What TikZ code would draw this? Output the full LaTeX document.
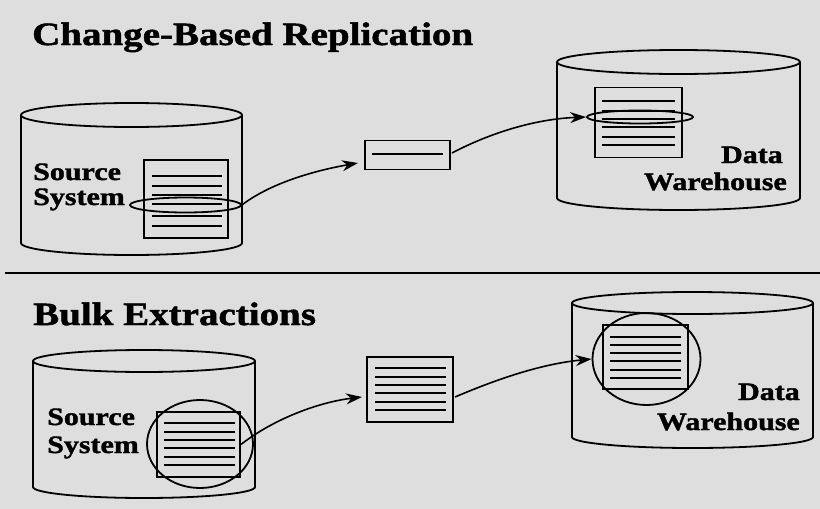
\documentclass[tikz,border=0pt]{standalone}
\usepackage{fontspec}
\setmainfont{Liberation Serif}
\newfontfamily\wfont[FakeStretch=1.2,FakeBold=1.5]{Liberation Serif}
\usetikzlibrary{arrows.meta,shapes.geometric}
\begin{document}
\begin{tikzpicture}[x=1pt,y=-1pt,
  ink/.style={draw=black,line width=1.8pt},
  thin/.style={draw=black,line width=1.5pt},
  title/.style={anchor=base west,inner sep=0pt,font=\wfont\fontsize{32.5}{32}\selectfont\bfseries,text=black},
  lbl/.style={inner sep=0pt,font=\wfont\fontsize{25}{25}\selectfont\bfseries,text=black},
  docbox/.style={ink,rectangle,inner sep=0pt},
  ring/.style={ink,ellipse,inner sep=0pt},
  flow/.style={draw=black,line width=1.6pt,-{Stealth[length=16pt,width=11pt]}}
]
\fill[black!13] (0,0) rectangle (820,509);
\useasboundingbox (0,0) rectangle (820,509);

% ---------- Top section ----------
\node[title] (t1) at (32,45) {Change-Based Replication};

% source cylinder
\draw[ink] (131.5,115) ellipse [x radius=110.5,y radius=12];
\draw[ink] (21,115) -- (21,243) arc[start angle=180,end angle=0,x radius=110.5,y radius=12] -- (242,115);
\node[lbl,anchor=base west] (s1a) at (33,180) {Source};
\node[lbl,anchor=base west] (s1b) at (33,205) {System};
\node[docbox,minimum width=84pt,minimum height=78pt] (d1) at (186,199) {};
\foreach \y in {176,186,195,204,216,226} \draw[thin] (152,\y) -- (222,\y);
\node[ring,minimum width=111pt,minimum height=15pt] (e1) at (185.5,205) {};

% middle small box
\node[docbox,minimum width=85pt,minimum height=29pt] (m1) at (407.5,155) {};
\draw[thin] (372,154) -- (443,154);

% warehouse cylinder
\draw[ink] (678.5,62) ellipse [x radius=121.5,y radius=12];
\draw[ink] (557,62) -- (557,198) arc[start angle=180,end angle=0,x radius=121.5,y radius=12] -- (800,62);
\node[docbox,minimum width=87pt,minimum height=70pt] (w1) at (638.5,122.5) {};
\foreach \y in {101,111,119,127,137,145} \draw[thin] (602,\y) -- (675,\y);
\node[ring,minimum width=106pt,minimum height=13pt] (f1) at (640,117) {};
\node[lbl,anchor=base east] (dw1a) at (783,163) {Data};
\node[lbl,anchor=base east] (dw1b) at (787,190) {Warehouse};

% arrows top
\coordinate (a1e) at (358,163);
\draw[flow] (e1.east) .. controls (272,182) and (318,170) .. (a1e);
\coordinate (a2s) at (452,153);
\draw[flow] (a2s) .. controls (490,133) and (535,119) .. (f1.west);

% divider
\draw[draw=black,line width=1.4pt] (5,273) -- (820,273);

% ---------- Bottom section ----------
\node[title] (t2) at (33,325) {Bulk Extractions};

\draw[ink] (144,361) ellipse [x radius=111,y radius=11];
\draw[ink] (33,361) -- (33,487) arc[start angle=180,end angle=0,x radius=111,y radius=11] -- (255,361);
\node[lbl,anchor=base west] (s2a) at (47,425) {Source};
\node[lbl,anchor=base west] (s2b) at (47,453) {System};
\node[docbox,minimum width=83pt,minimum height=65pt] (d2) at (198.5,444.5) {};
\foreach \y in {423,432,440,448,457,465} \draw[thin] (164,\y) -- (235,\y);
\node[ring,minimum width=106pt,minimum height=88pt] (e2) at (200,444) {};

\node[docbox,minimum width=86pt,minimum height=65pt] (m2) at (410,389.5) {};
\foreach \y in {368,377,385,393,402,410} \draw[thin] (375,\y) -- (446,\y);

\draw[ink] (692.5,303) ellipse [x radius=120.5,y radius=11];
\draw[ink] (572,303) -- (572,437) arc[start angle=180,end angle=0,x radius=120.5,y radius=11] -- (813,303);
\node[docbox,minimum width=85pt,minimum height=64pt] (w2) at (645.5,357) {};
\foreach \y in {337,345,353,361,370,378} \draw[thin] (610,\y) -- (681,\y);
\node[ring,minimum width=108pt,minimum height=92pt] (f2) at (646.5,359) {};
\node[lbl,anchor=base east] (dw2a) at (800,400) {Data};
\node[lbl,anchor=base east] (dw2b) at (800,430) {Warehouse};

\coordinate (b1e) at (362,397);
\draw[flow] (d2.east) .. controls (275,418) and (320,402) .. (b1e);
\coordinate (b2s) at (455,397);
\draw[flow] (b2s) .. controls (495,380) and (540,364) .. (f2.west);
\end{tikzpicture}
\end{document}
